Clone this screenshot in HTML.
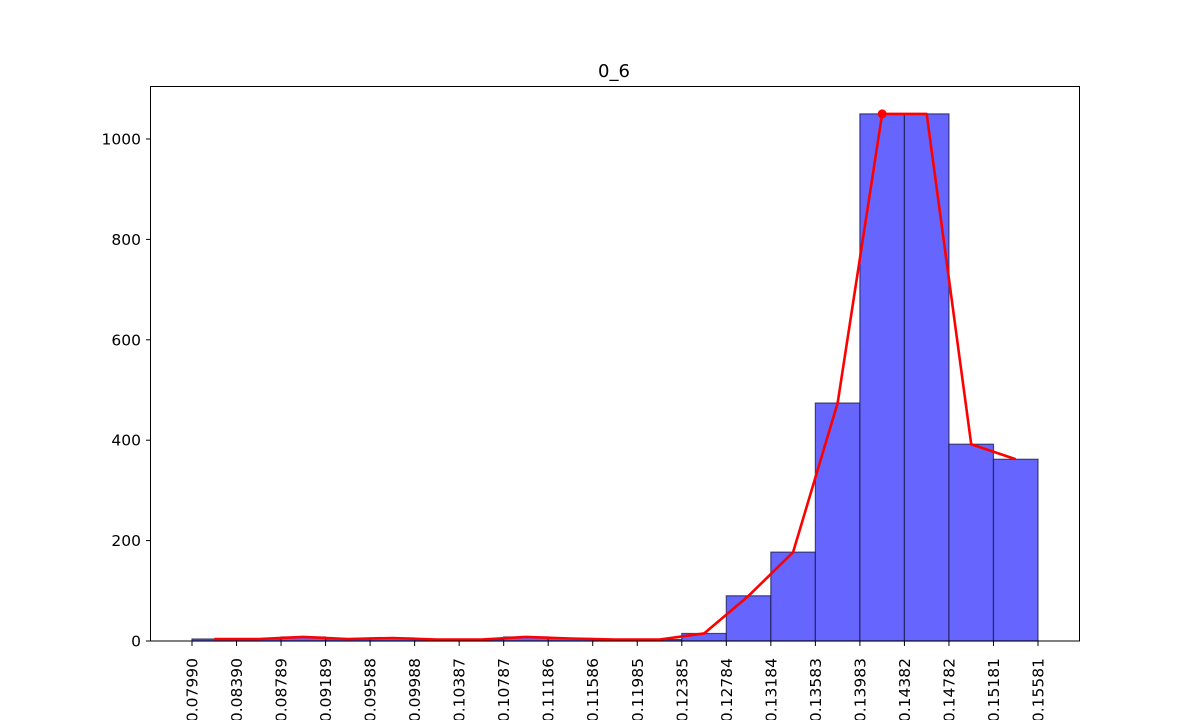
<!DOCTYPE html>
<html><head><meta charset="utf-8"><style>body{margin:0;background:#fff}svg{display:block}text{font-family:"DejaVu Sans","Liberation Sans",sans-serif}</style></head>
<body>
<svg id="chart" width="1200" height="720">
<text x="614" y="77" font-size="18" text-anchor="middle">0_6</text>
<g id="bars"></g><g id="line"></g>
<rect x="150.5" y="86.5" width="929" height="554.5" fill="none" stroke="#000" stroke-width="1"/>
<g id="axes"></g>
</svg>
<script>
const edgeLabels=["0.07990","0.08390","0.08789","0.09189","0.09588","0.09988","0.10387","0.10787","0.11186","0.11586","0.11985","0.12385","0.12784","0.13184","0.13583","0.13983","0.14382","0.14782","0.15181","0.15581"];
const binCounts=[4,4,8,4,6,3,3,8,5,3,3,15,90,177,474,1050,1050,392,362];
const yTicks=[0,200,400,600,800,1000];
const NS="http://www.w3.org/2000/svg";
const x0=192,x1=1038,nb=binCounts.length;
const xs=i=>x0+(x1-x0)*i/nb;
const ys=v=>641-v*0.502;
function mk(t,a,p){const e=document.createElementNS(NS,t);for(const k in a)e.setAttribute(k,a[k]);p.appendChild(e);return e;}
const bars=document.getElementById('bars'),line=document.getElementById('line'),axes=document.getElementById('axes');
binCounts.forEach((v,i)=>{
 const r=mk('rect',{x:xs(i),y:ys(v),width:xs(i+1)-xs(i),height:641-ys(v),fill:'#6666ff',stroke:'#1a1a4d','stroke-opacity':0.75,'stroke-width':1.2},bars);
 
 
});
const pts=binCounts.map((v,i)=>((xs(i)+xs(i+1))/2)+','+ys(v)).join(' ');
const pl=mk('polyline',{points:pts,fill:'none',stroke:'#ff0000','stroke-width':2.6,'stroke-linejoin':'round'},line);


let mi=0;binCounts.forEach((v,i)=>{if(v>binCounts[mi])mi=i;});
const pk=mk('circle',{cx:(xs(mi)+xs(mi+1))/2,cy:ys(binCounts[mi]),r:4.5,fill:'#ff0000'},line);


yTicks.forEach(v=>{
 const y=ys(v);
 const l=mk('line',{x1:146,x2:150,y1:y,y2:y,stroke:'#000'},axes);
 
 
 const t=mk('text',{x:141,y:y+5.5,'font-size':15.5,'text-anchor':'end'},axes);t.textContent=v;
 
 
});
edgeLabels.forEach((s,i)=>{
 const x=xs(i);
 const l=mk('line',{x1:x,x2:x,y1:641,y2:646,stroke:'#000'},axes);
 
 
 const t=mk('text',{x:0,y:0,'font-size':15.5,'text-anchor':'end',transform:`translate(${x+5.5},658) rotate(-90)`},axes);t.textContent=s;
 
 
});
</script>
</body></html>
